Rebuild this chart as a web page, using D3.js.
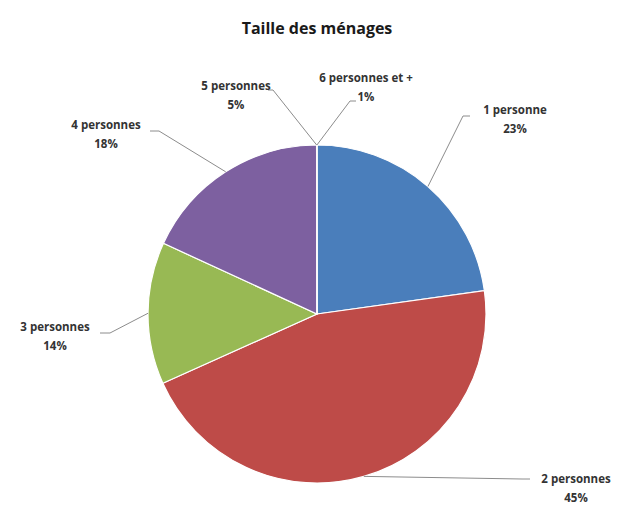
<!DOCTYPE html>
<html>
<head>
<meta charset="utf-8">
<script src="https://cdn.jsdelivr.net/npm/d3@7"></script>
<style>
  body{margin:0;background:#fff;}
  text{font-family:"Open Sans",sans-serif;}
</style>
</head>
<body>
<svg id="chart" width="622" height="505"></svg>
<script>
// valeurs
var categories=["1 personne","2 personnes","3 personnes","4 personnes","5 personnes","6 personnes et +"];
var shares=[22.8,45.5,13.6,18.1,0.02,0.02];   // taille visible des parts
var pctLabels=["23%","45%","14%","18%","5%","1%"];
var colors=["#4a7ebb","#be4b48","#98b954","#7d60a0","#4bacc6","#f79646"];

var W=622,H=505;
var cx=317,cy=314,R=169;

// placement des étiquettes : coude de la ligne, fin de la ligne, centre du texte
var labelPos=[
  {elbow:[463,116],end:[470,116],tx:515,ty:114},
  {elbow:[522,479],end:[530,479],tx:576,ty:483},
  {elbow:[110,333],end:[100,333],tx:55,ty:331},
  {elbow:[159,131],end:[150,131],tx:106,ty:129},
  {elbow:[273,90],end:[268,90],tx:236,ty:90},
  {elbow:[350,101],end:[356,101],tx:366,ty:82}
];

var svg=d3.select("#chart");

svg.append("text")
  .attr("x",cx).attr("y",34)
  .attr("text-anchor","middle")
  .attr("font-size",16).attr("font-weight","bold")
  .attr("fill","#1a1a1a")
  .text("Taille des ménages");

var pie=d3.pie().sort(null).value(function(d){return d;});
var arcs=pie(shares);
var arc=d3.arc().innerRadius(0).outerRadius(R);
var edge=d3.arc().innerRadius(R).outerRadius(R);

var g=svg.append("g").attr("transform","translate("+cx+","+cy+")");

g.selectAll("path.slice").data(arcs).enter().append("path")
  .attr("class","slice")
  .attr("d",arc)
  .attr("fill",function(d,i){return colors[i];})
  .attr("stroke","#fff").attr("stroke-width",1.2);

// lignes de rappel
var lines=svg.append("g");
arcs.forEach(function(d,i){
  var c=edge.centroid(d);
  var p=labelPos[i];
  lines.append("polyline")
    .attr("points",[[cx+c[0],cy+c[1]],p.elbow,p.end].map(function(q){return q.join(",");}).join(" "))
    .attr("fill","none").attr("stroke","#8c8c8c").attr("stroke-width",1);
});

var labels=svg.append("g");
arcs.forEach(function(d,i){
  var p=labelPos[i];
  var t=labels.append("text")
    .attr("text-anchor","middle")
    .attr("font-size",11.5).attr("font-weight","bold")
    .attr("fill","#333");
  t.append("tspan").attr("x",p.tx).attr("y",p.ty).text(categories[i]);
  t.append("tspan").attr("x",p.tx).attr("y",p.ty+19).text(pctLabels[i]);
});
</script>
</body>
</html>
